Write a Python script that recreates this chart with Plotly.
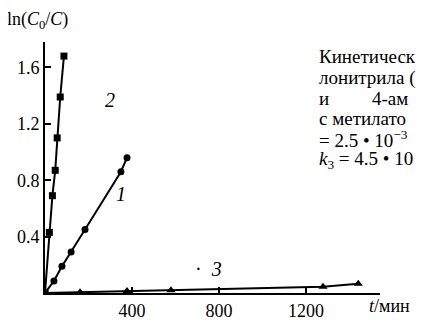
import plotly.graph_objects as go

# Series data
t1 = [0, 41, 78, 120, 184, 349, 377]
y1 = [0, 0.085, 0.19, 0.29, 0.45, 0.86, 0.96]

t2 = [0, 20, 34, 47, 56, 70, 87]
y2 = [0, 0.43, 0.69, 0.87, 1.10, 1.39, 1.68]

t3 = [0, 161, 377, 579, 1278, 1440]
y3 = [0, 0.005, 0.015, 0.02, 0.045, 0.065]

x_ticks = [400, 800, 1200]
y_ticks = [0.4, 0.8, 1.2, 1.6]
y_ticklabels = ["0.4", "0.8", "1.2", "1.6"]

text_lines = [
    "Кинетическ",
    "лонитрила (",
    "и         4-ам",
    "с метилато",
    "= 2.5 • 10<sup>−3</sup>",
    "<i>k</i><sub>3</sub> = 4.5 • 10",
]

FONT = "Liberation Serif"

fig = go.Figure()
fig.add_trace(go.Scatter(x=t1, y=y1, mode="lines+markers",
                         line=dict(color="black", width=2),
                         marker=dict(symbol="circle", size=7, color="black")))
fig.add_trace(go.Scatter(x=t2, y=y2, mode="lines+markers",
                         line=dict(color="black", width=2),
                         marker=dict(symbol="square", size=7, color="black")))
fig.add_trace(go.Scatter(x=t3, y=y3, mode="lines+markers",
                         line=dict(color="black", width=2),
                         marker=dict(symbol="triangle-up", size=8, color="black")))

# page body adds an 8px offset; figure sized to fit the window
fig.update_layout(
    width=421, height=314,
    margin=dict(l=37, r=49, t=34, b=29),
    paper_bgcolor="white", plot_bgcolor="white",
    showlegend=False,
    font=dict(family=FONT, size=18, color="black"),
    xaxis=dict(range=[0, 1540], tickvals=x_ticks, ticks="inside", ticklen=6,
               tickwidth=1.5, tickcolor="black", showline=True, linewidth=2,
               linecolor="black", showgrid=False, zeroline=False, automargin=False,
               tickfont=dict(family=FONT, size=18)),
    yaxis=dict(range=[0, 1.78], tickvals=y_ticks, ticktext=y_ticklabels,
               ticks="inside", ticklen=6, tickwidth=1.5, tickcolor="black",
               showline=True, linewidth=2, linecolor="black", showgrid=False,
               zeroline=False, automargin=False, tickfont=dict(family=FONT, size=18)),
)

ann = []
ann.append(dict(text="ln(<i>C</i><sub>0</sub>/<i>C</i>)", xref="paper", yref="paper",
                x=-0.12, y=1.03, xanchor="left", yanchor="bottom", showarrow=False,
                font=dict(family=FONT, size=18)))
ann.append(dict(text="<i>t</i>/мин", xref="paper", yref="paper",
                x=0.96, y=-0.05, xanchor="left", yanchor="middle", showarrow=False,
                font=dict(family=FONT, size=18)))
# curve labels
ann.append(dict(text="<i>2</i>", x=300, y=1.37, xref="x", yref="y", showarrow=False,
                font=dict(family=FONT, size=20)))
ann.append(dict(text="<i>1</i>", x=350, y=0.70, xref="x", yref="y", showarrow=False,
                font=dict(family=FONT, size=20)))
ann.append(dict(text="·  <i>3</i>", x=750, y=0.17, xref="x", yref="y", showarrow=False,
                font=dict(family=FONT, size=20)))

for i, line in enumerate(text_lines):
    ann.append(dict(text=line, xref="paper", yref="paper",
                    x=(317 - 45) / 335, y=(293 - (57 + i * 20.5)) / 251,
                    xanchor="left", yanchor="middle", showarrow=False,
                    font=dict(family=FONT, size=19)))

fig.update_layout(annotations=ann)
fig.write_html("out.html")
